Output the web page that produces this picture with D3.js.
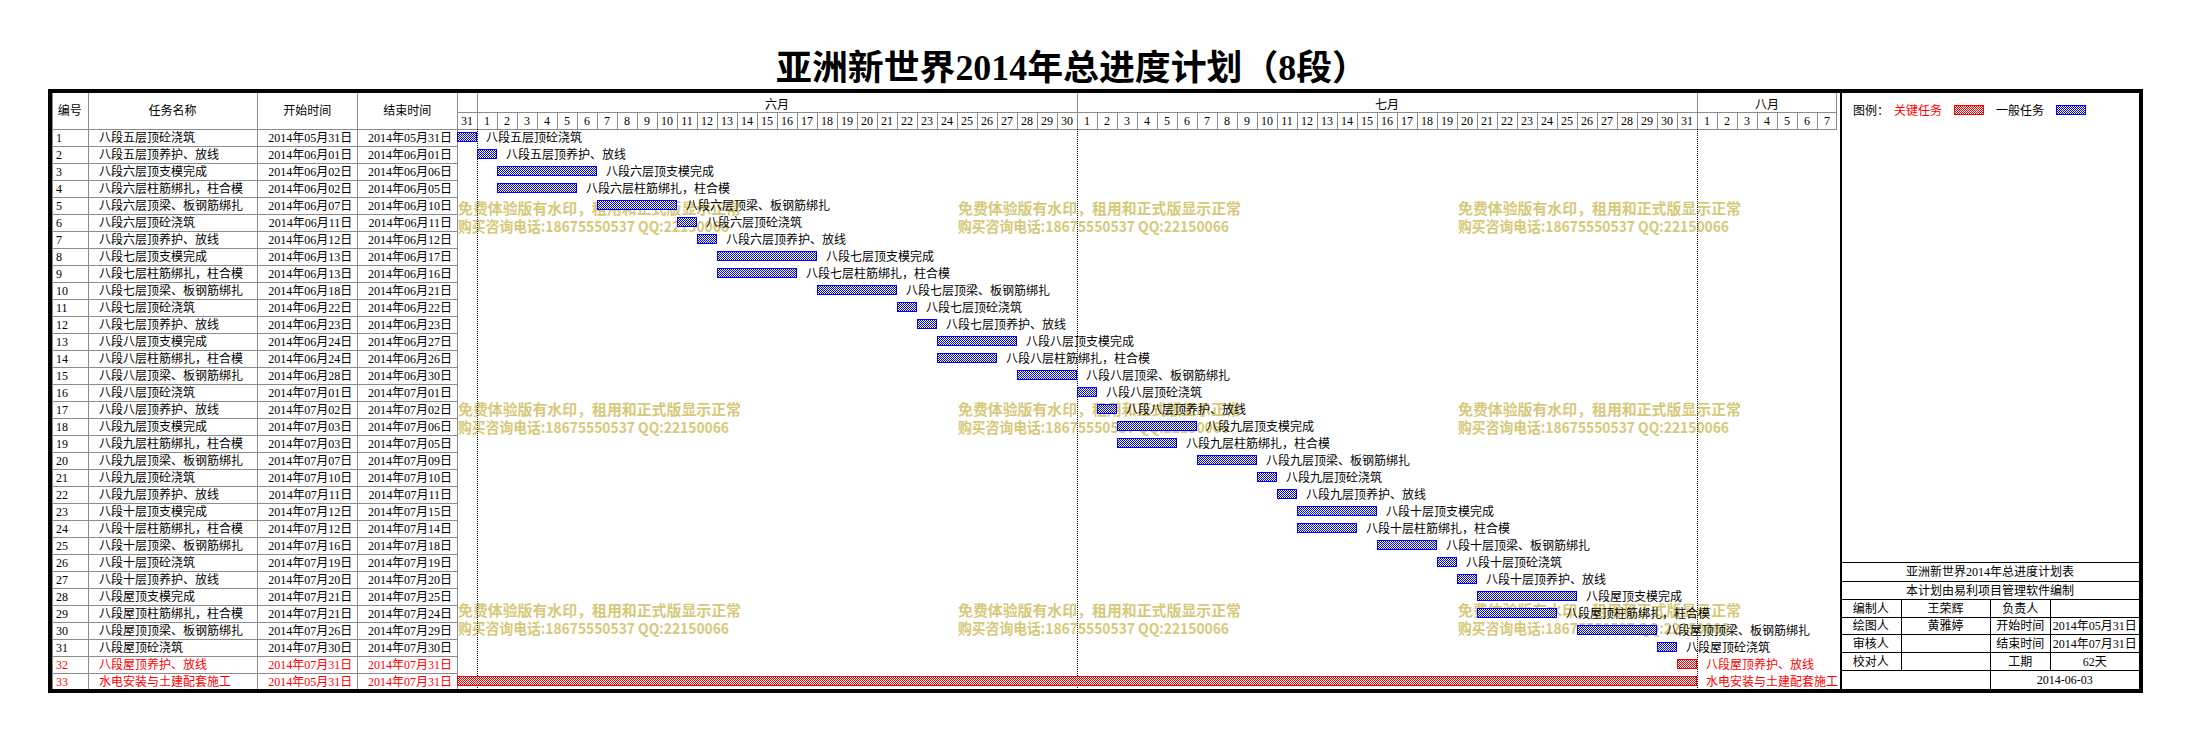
<!DOCTYPE html>
<html><head><meta charset="utf-8">
<script src="https://cdn.jsdelivr.net/npm/d3@7"></script>
<style>html,body{margin:0;padding:0;background:#fff;} svg{display:block}</style>
</head><body><svg id="c" width="2189" height="740"></svg>
<script>
const titleText = "亚洲新世界2014年总进度计划（8段）";
const headerLabels = ["编号", "任务名称", "开始时间", "结束时间"];
const taskIds = [1,2,3,4,5,6,7,8,9,10,11,12,13,14,15,16,17,18,19,20,21,22,23,24,25,26,27,28,29,30,31,32,33];
const taskNames = [
  "八段五层顶砼浇筑","八段五层顶养护、放线","八段六层顶支模完成","八段六层柱筋绑扎，柱合模",
  "八段六层顶梁、板钢筋绑扎","八段六层顶砼浇筑","八段六层顶养护、放线","八段七层顶支模完成",
  "八段七层柱筋绑扎，柱合模","八段七层顶梁、板钢筋绑扎","八段七层顶砼浇筑","八段七层顶养护、放线",
  "八段八层顶支模完成","八段八层柱筋绑扎，柱合模","八段八层顶梁、板钢筋绑扎","八段八层顶砼浇筑",
  "八段八层顶养护、放线","八段九层顶支模完成","八段九层柱筋绑扎，柱合模","八段九层顶梁、板钢筋绑扎",
  "八段九层顶砼浇筑","八段九层顶养护、放线","八段十层顶支模完成","八段十层柱筋绑扎，柱合模",
  "八段十层顶梁、板钢筋绑扎","八段十层顶砼浇筑","八段十层顶养护、放线","八段屋顶支模完成",
  "八段屋顶柱筋绑扎，柱合模","八段屋顶顶梁、板钢筋绑扎","八段屋顶砼浇筑","八段屋顶养护、放线",
  "水电安装与土建配套施工"];
const taskStarts = [
  "2014-05-31","2014-06-01","2014-06-02","2014-06-02","2014-06-07","2014-06-11","2014-06-12","2014-06-13",
  "2014-06-13","2014-06-18","2014-06-22","2014-06-23","2014-06-24","2014-06-24","2014-06-28","2014-07-01",
  "2014-07-02","2014-07-03","2014-07-03","2014-07-07","2014-07-10","2014-07-11","2014-07-12","2014-07-12",
  "2014-07-16","2014-07-19","2014-07-20","2014-07-21","2014-07-21","2014-07-26","2014-07-30","2014-07-31",
  "2014-05-31"];
const taskEnds = [
  "2014-05-31","2014-06-01","2014-06-06","2014-06-05","2014-06-10","2014-06-11","2014-06-12","2014-06-17",
  "2014-06-16","2014-06-21","2014-06-22","2014-06-23","2014-06-27","2014-06-26","2014-06-30","2014-07-01",
  "2014-07-02","2014-07-06","2014-07-05","2014-07-09","2014-07-10","2014-07-11","2014-07-15","2014-07-14",
  "2014-07-18","2014-07-19","2014-07-20","2014-07-25","2014-07-24","2014-07-29","2014-07-30","2014-07-31",
  "2014-07-31"];
const taskCritical = [0,0,0,0,0,0,0,0,0,0,0,0,0,0,0,0,0,0,0,0,0,0,0,0,0,0,0,0,0,0,0,1,1];
const timelineStart = "2014-05-31";
const timelineEnd = "2014-08-07";
const monthLabels = ["", "六月", "七月", "八月"];
const legendLabels = ["图例：", "关键任务", "一般任务"];
const watermarkLines = ["免费体验版有水印，租用和正式版显示正常", "购买咨询电话:18675550537 QQ:22150066"];
const infoTitles = ["亚洲新世界2014年总进度计划表", "本计划由易利项目管理软件编制"];
const infoRows = [
  ["编制人", "王荣辉", "负责人", ""],
  ["绘图人", "黄雅婷", "开始时间", "2014年05月31日"],
  ["审核人", "", "结束时间", "2014年07月31日"],
  ["校对人", "", "工期", "62天"]];
const printDate = "2014-06-03";

// ---------- layout ----------
const svg = d3.select("#c");
const FONT = "'Liberation Serif','Noto Sans CJK SC',serif";
const CJK = "'Noto Sans CJK SC',sans-serif";
const GRAY = "#8c8c8c";
const BLUE = "#0000ff", RED = "#ff0000";
const parse = d3.utcParse("%Y-%m-%d");
const fmt = d3.utcFormat("%Y年%m月%d日");

const frame = {l: 48, r: 2143, t: 89, b: 693};
const colX = [52, 87.7, 257.3, 357.3, 457];
const gx0 = 457, gx1 = 1837, panelX = 1841, panelR = 2139;
const headTop = 93, monthBot = 111.5, headBot = 128.7, bodyBot = 689.7;
const px = v => Math.round(v) + 0.5;

const tasks = taskIds.map((id, i) => ({
  id, name: taskNames[i], start: parse(taskStarts[i]), end: parse(taskEnds[i]), crit: taskCritical[i] === 1
}));

const t0 = parse(timelineStart), t1 = d3.utcDay.offset(parse(timelineEnd), 1);
const x = d3.scaleUtc().domain([t0, t1]).range([gx0, gx1]);
const y = d3.scaleBand().domain(taskIds).range([headBot, bodyBot]);

const defs = svg.append("defs");
function checker(id, color) {
  const p = defs.append("pattern").attr("id", id).attr("patternUnits", "userSpaceOnUse")
    .attr("width", 2).attr("height", 2);
  p.append("rect").attr("width", 2).attr("height", 2).attr("fill", "#fff");
  p.append("rect").attr("width", 1).attr("height", 1).attr("fill", color);
  p.append("rect").attr("x", 1).attr("y", 1).attr("width", 1).attr("height", 1).attr("fill", color);
}
checker("pBlue", BLUE);
checker("pRed", RED);

function line(g, x1, y1, x2, y2, color, w, dash) {
  const l = g.append("line").attr("x1", x1).attr("y1", y1).attr("x2", x2).attr("y2", y2)
    .attr("stroke", color).attr("stroke-width", w || 1).attr("shape-rendering", "crispEdges");
  if (dash) l.attr("stroke-dasharray", dash);
  return l;
}

// ---------- title ----------
svg.append("text").attr("x", 1072).attr("y", 68).attr("text-anchor", "middle")
  .attr("dominant-baseline", "central").attr("font-family", "'Liberation Serif','Noto Sans CJK SC',serif")
  .attr("font-weight", "bold").attr("font-size", 35).attr("textLength", 592)
  .attr("lengthAdjust", "spacingAndGlyphs").attr("fill", "#000").text(titleText);

// ---------- watermarks ----------
const wm = svg.append("g").attr("font-family", CJK).attr("font-weight", "bold").attr("font-size", 15)
  .attr("fill", "#d6c97a");
const wmLen = [283, 271];
[0, 1, 2].forEach(r => [0, 1, 2].forEach(c => {
  watermarkLines.forEach((t, k) => {
    wm.append("text").attr("x", 458 + c * 500).attr("y", 207.5 + r * 201 + k * 17.5)
      .attr("dominant-baseline", "central").attr("textLength", wmLen[k])
      .attr("lengthAdjust", "spacingAndGlyphs").text(t);
  });
}));

// ---------- left table ----------
const tbl = svg.append("g");
colX.forEach(cx => line(tbl, px(cx), headTop, px(cx), bodyBot, GRAY));
line(tbl, colX[0], px(headBot), gx1, px(headBot), GRAY);
tasks.forEach(d => line(tbl, colX[0], px(y(d.id) + y.bandwidth()), colX[4], px(y(d.id) + y.bandwidth()), GRAY));

const hdr = svg.append("g").attr("font-family", FONT).attr("font-size", 12).attr("fill", "#000")
  .attr("text-anchor", "middle").attr("dominant-baseline", "central");
headerLabels.forEach((h, i) => hdr.append("text").attr("x", (colX[i] + colX[i + 1]) / 2)
  .attr("y", (headTop + headBot) / 2).text(h));

const rows = svg.append("g").attr("font-family", FONT).attr("font-size", 12)
  .attr("dominant-baseline", "central");
tasks.forEach(d => {
  const cy = y(d.id) + y.bandwidth() / 2 + 0.5;
  const fill = d.crit ? RED : "#000";
  rows.append("text").attr("x", 56).attr("y", cy).attr("fill", fill).text(d.id);
  rows.append("text").attr("x", 99).attr("y", cy).attr("fill", fill).text(d.name);
  rows.append("text").attr("x", colX[3] - 5).attr("y", cy).attr("text-anchor", "end").attr("fill", fill).text(fmt(d.start));
  rows.append("text").attr("x", colX[4] - 5).attr("y", cy).attr("text-anchor", "end").attr("fill", fill).text(fmt(d.end));
});

// ---------- gantt header ----------
const gh = svg.append("g");
line(gh, gx0, px(monthBot), gx1, px(monthBot), GRAY);
const days = d3.utcDay.range(t0, t1);
days.forEach(d => line(gh, px(x(d)), monthBot, px(x(d)), headBot, GRAY));
line(gh, px(gx1) - 1, headTop, px(gx1) - 1, headBot, GRAY);
const monthStarts = [t0].concat(d3.utcMonth.range(d3.utcDay.offset(t0, 1), t1));
monthStarts.forEach(m => line(gh, px(x(m)), headTop, px(x(m)), monthBot, GRAY));
const dayText = svg.append("g").attr("font-family", FONT).attr("font-size", 12).attr("fill", "#000")
  .attr("text-anchor", "middle").attr("dominant-baseline", "central");
days.forEach(d => dayText.append("text").attr("x", x(d) + 10).attr("y", (monthBot + headBot) / 2 + 0.5)
  .text(d.getUTCDate()));
monthStarts.forEach((m, i) => {
  const me = i + 1 < monthStarts.length ? monthStarts[i + 1] : t1;
  dayText.append("text").attr("x", (x(m) + x(me)) / 2).attr("y", (headTop + monthBot) / 2 + 1)
    .attr("font-family", CJK).text(monthLabels[i]);
});

// dotted month separators in body
monthStarts.slice(1).forEach(m => line(gh, px(x(m)), headBot, px(x(m)), bodyBot, "#000", 1, "1,1"));

// ---------- bars ----------
const bars = svg.append("g");
const bh = 10;
tasks.forEach(d => {
  const xs = x(d.start), xe = x(d3.utcDay.offset(d.end, 1));
  const cy = y(d.id) + y.bandwidth() / 2;
  const top = Math.round(cy - bh / 2) + 0.5;
  bars.append("rect").attr("x", Math.round(xs) + 0.5).attr("y", top)
    .attr("width", Math.round(xe) - Math.round(xs) - 1).attr("height", bh - 1)
    .attr("fill", d.crit ? "url(#pRed)" : "url(#pBlue)").attr("stroke", d.crit ? RED : BLUE)
    .attr("stroke-width", 1).attr("shape-rendering", "crispEdges");
  bars.append("text").attr("x", xe + 9).attr("y", cy + 0.5).attr("dominant-baseline", "central")
    .attr("font-family", FONT).attr("font-size", 12).attr("fill", d.crit ? RED : "#000").text(d.name);
});

// ---------- right panel ----------
const pn = svg.append("g");
line(pn, panelX, headTop, panelX, bodyBot, "#000", 2);
const lg = svg.append("g").attr("font-family", CJK).attr("font-size", 12).attr("dominant-baseline", "central");
lg.append("text").attr("x", 1853).attr("y", 109.5).attr("fill", "#000").text(legendLabels[0]);
lg.append("text").attr("x", 1894).attr("y", 109.5).attr("fill", RED).text(legendLabels[1]);
lg.append("rect").attr("x", 1954.5).attr("y", 105.5).attr("width", 29).attr("height", 9)
  .attr("fill", "url(#pRed)").attr("stroke", RED).attr("shape-rendering", "crispEdges");
lg.append("text").attr("x", 1996).attr("y", 109.5).attr("fill", "#000").text(legendLabels[2]);
lg.append("rect").attr("x", 2056.5).attr("y", 105.5).attr("width", 29).attr("height", 9)
  .attr("fill", "url(#pBlue)").attr("stroke", BLUE).attr("shape-rendering", "crispEdges");

const pRowsY = [561.7, 580.7, 599.3, 616.7, 634.3, 652.3, 670, bodyBot];
const pCols = [panelX, 1900.7, 1990.3, 2050.3, panelR];
pRowsY.slice(0, 7).forEach(yy => line(pn, panelX, px(yy), panelR, px(yy), "#000"));
line(pn, px(pCols[1]), pRowsY[2], px(pCols[1]), pRowsY[6], "#000");
line(pn, px(pCols[2]), pRowsY[2], px(pCols[2]), bodyBot, "#000");
line(pn, px(pCols[3]), pRowsY[2], px(pCols[3]), pRowsY[6], "#000");
const pt = svg.append("g").attr("font-family", FONT).attr("font-size", 12).attr("fill", "#000")
  .attr("text-anchor", "middle").attr("dominant-baseline", "central");
infoTitles.forEach((t, i) => pt.append("text").attr("x", (panelX + panelR) / 2)
  .attr("y", (pRowsY[i] + pRowsY[i + 1]) / 2 + 0.5).text(t));
infoRows.forEach((r, i) => r.forEach((t, j) => {
  pt.append("text").attr("x", (pCols[j] + pCols[j + 1]) / 2)
    .attr("y", (pRowsY[i + 2] + pRowsY[i + 3]) / 2 + 0.5).text(t);
}));
pt.append("text").attr("x", (pCols[2] + pCols[4]) / 2).attr("y", (pRowsY[6] + pRowsY[7]) / 2 + 0.5).text(printDate);

// ---------- outer frame ----------
svg.append("rect").attr("x", frame.l + 2).attr("y", frame.t + 2)
  .attr("width", frame.r - frame.l - 4).attr("height", frame.b - frame.t - 4)
  .attr("fill", "none").attr("stroke", "#000").attr("stroke-width", 4).attr("shape-rendering", "crispEdges");
</script></body></html>
